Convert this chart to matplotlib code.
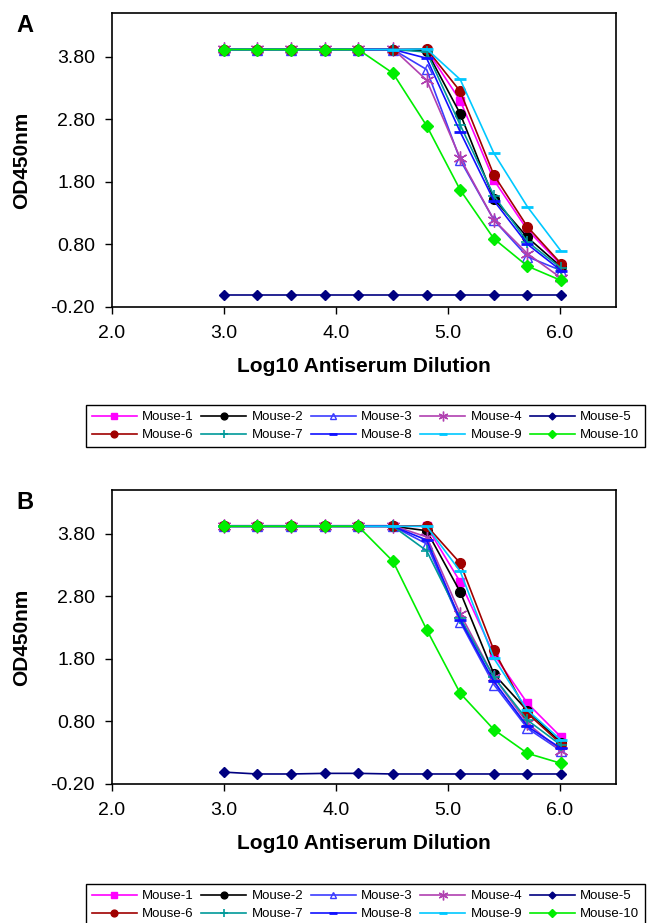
"""ELISA antibody titres of immunised mice, panels A and B."""
import matplotlib
matplotlib.use("Agg")
import matplotlib.pyplot as plt

plt.rcParams["font.family"] = ["Liberation Sans", "DejaVu Sans"]

# log10 of the 2-fold serial dilutions 1:1000 ... 1:1024000
LOG_DILUTION = [3.00, 3.30, 3.60, 3.90, 4.20, 4.51, 4.81, 5.11, 5.41, 5.71, 6.01]

MICE = [f"Mouse-{i}" for i in range(1, 11)]

# OD450 per mouse (rows) and dilution (columns)
OD_A = [
    [3.92, 3.92, 3.92, 3.92, 3.92, 3.92, 3.92, 3.10, 1.83, 1.03, 0.47],
    [3.92, 3.92, 3.92, 3.92, 3.92, 3.92, 3.90, 2.89, 1.53, 0.91, 0.44],
    [3.92, 3.92, 3.92, 3.92, 3.92, 3.92, 3.60, 2.15, 1.19, 0.60, 0.38],
    [3.93, 3.93, 3.93, 3.93, 3.93, 3.93, 3.43, 2.18, 1.19, 0.65, 0.26],
    [-0.02, -0.02, -0.02, -0.02, -0.02, -0.02, -0.02, -0.02, -0.02, -0.02, -0.02],
    [3.92, 3.92, 3.92, 3.92, 3.92, 3.92, 3.93, 3.25, 1.91, 1.08, 0.49],
    [3.92, 3.92, 3.92, 3.92, 3.92, 3.92, 3.88, 2.71, 1.58, 0.84, 0.42],
    [3.92, 3.92, 3.92, 3.92, 3.92, 3.92, 3.78, 2.60, 1.50, 0.80, 0.38],
    [3.92, 3.92, 3.92, 3.92, 3.92, 3.92, 3.93, 3.44, 2.26, 1.40, 0.69],
    [3.92, 3.92, 3.92, 3.92, 3.92, 3.54, 2.70, 1.67, 0.89, 0.45, 0.22],
]

OD_B = [
    [3.92, 3.92, 3.92, 3.92, 3.92, 3.92, 3.92, 3.03, 1.87, 1.09, 0.55],
    [3.92, 3.92, 3.92, 3.92, 3.92, 3.92, 3.85, 2.87, 1.56, 0.97, 0.46],
    [3.92, 3.92, 3.92, 3.92, 3.92, 3.92, 3.64, 2.39, 1.39, 0.69, 0.33],
    [3.93, 3.93, 3.93, 3.93, 3.93, 3.93, 3.75, 2.52, 1.51, 0.77, 0.33],
    [-0.01, -0.04, -0.04, -0.03, -0.03, -0.04, -0.04, -0.04, -0.04, -0.04, -0.04],
    [3.92, 3.92, 3.92, 3.92, 3.92, 3.92, 3.93, 3.33, 1.94, 0.93, 0.44],
    [3.92, 3.92, 3.92, 3.92, 3.92, 3.92, 3.53, 2.45, 1.51, 0.82, 0.42],
    [3.92, 3.92, 3.92, 3.92, 3.92, 3.92, 3.70, 2.42, 1.44, 0.72, 0.37],
    [3.92, 3.92, 3.92, 3.92, 3.92, 3.92, 3.92, 3.20, 1.81, 0.98, 0.50],
    [3.92, 3.92, 3.92, 3.92, 3.92, 3.36, 2.27, 1.25, 0.67, 0.29, 0.13],
]

X_TICKS = [2.0, 3.0, 4.0, 5.0, 6.0]
Y_TICKS = [-0.2, 0.8, 1.8, 2.8, 3.8]

STYLES = [
    dict(color="#FF00FF", marker="s", ms=6),
    dict(color="#000000", marker="o", ms=7),
    dict(color="#3C3CFF", marker="^", ms=7, mfc="none", mew=1.0),
    dict(color="#B040B0", marker=(6, 2, 0), ms=10, mew=1.0),
    dict(color="#000080", marker="D", ms=5),
    dict(color="#A00000", marker="o", ms=7),
    dict(color="#009999", marker="+", ms=9, mew=1.2),
    dict(color="#1010FF", marker="_", ms=9, mew=2.0),
    dict(color="#00C8FF", marker="_", ms=9, mew=2.0),
    dict(color="#00EE00", marker="D", ms=6),
]

# legend fills by column, so interleave to read Mouse-1..5 across the top row
LEGEND_ORDER = [0, 5, 1, 6, 2, 7, 3, 8, 4, 9]


def draw_panel(fig, rect, data, letter, legend_top):
    ax = fig.add_axes(rect)
    handles = []
    for name, vals, st in zip(MICE, data, STYLES):
        (h,) = ax.plot(LOG_DILUTION, vals, lw=1.2, label=name, **st)
        handles.append(h)
    ax.set_xlim(2.0, 6.5)
    ax.set_ylim(-0.2, 4.5)
    ax.set_xticks(X_TICKS)
    ax.set_xticklabels([f"{t:.1f}" for t in X_TICKS])
    ax.set_yticks(Y_TICKS)
    ax.set_yticklabels([f"{t:.2f}" for t in Y_TICKS])
    ax.tick_params(direction="out", length=5, width=1, labelsize=14)
    ax.tick_params(axis="x", pad=8)
    ax.tick_params(axis="y", pad=7)
    for sp in ax.spines.values():
        sp.set_linewidth(1.2)
    ax.set_xlabel("Log10 Antiserum Dilution", fontsize=15, fontweight="bold", labelpad=11)
    ax.set_ylabel("OD450nm", fontsize=15, fontweight="bold", labelpad=14)
    fig.text(0.038, rect[1] + rect[3] - 0.013, letter, fontsize=17,
             fontweight="bold", ha="center", va="center")
    leg = ax.legend(handles=[handles[i] for i in LEGEND_ORDER], loc="upper left",
                    ncol=5, mode="expand",
                    bbox_to_anchor=(0.1327, legend_top, 0.8627, 0.0),
                    bbox_transform=fig.transFigure, borderaxespad=0,
                    fontsize=9.5, handlelength=3.4, handletextpad=0.4,
                    borderpad=0.45, labelspacing=0.45, markerscale=0.7,
                    fancybox=False, edgecolor="black", framealpha=1)
    leg.get_frame().set_linewidth(1.0)
    return ax


fig = plt.figure(figsize=(6.48, 9.23), dpi=100)
draw_panel(fig, [0.1724, 0.6677, 0.7782, 0.3179], OD_A, "A", 1 - 405 / 923)
draw_panel(fig, [0.1724, 0.1506, 0.7782, 0.3185], OD_B, "B", 1 - 884 / 923)
fig.savefig("out.png", dpi=100)
